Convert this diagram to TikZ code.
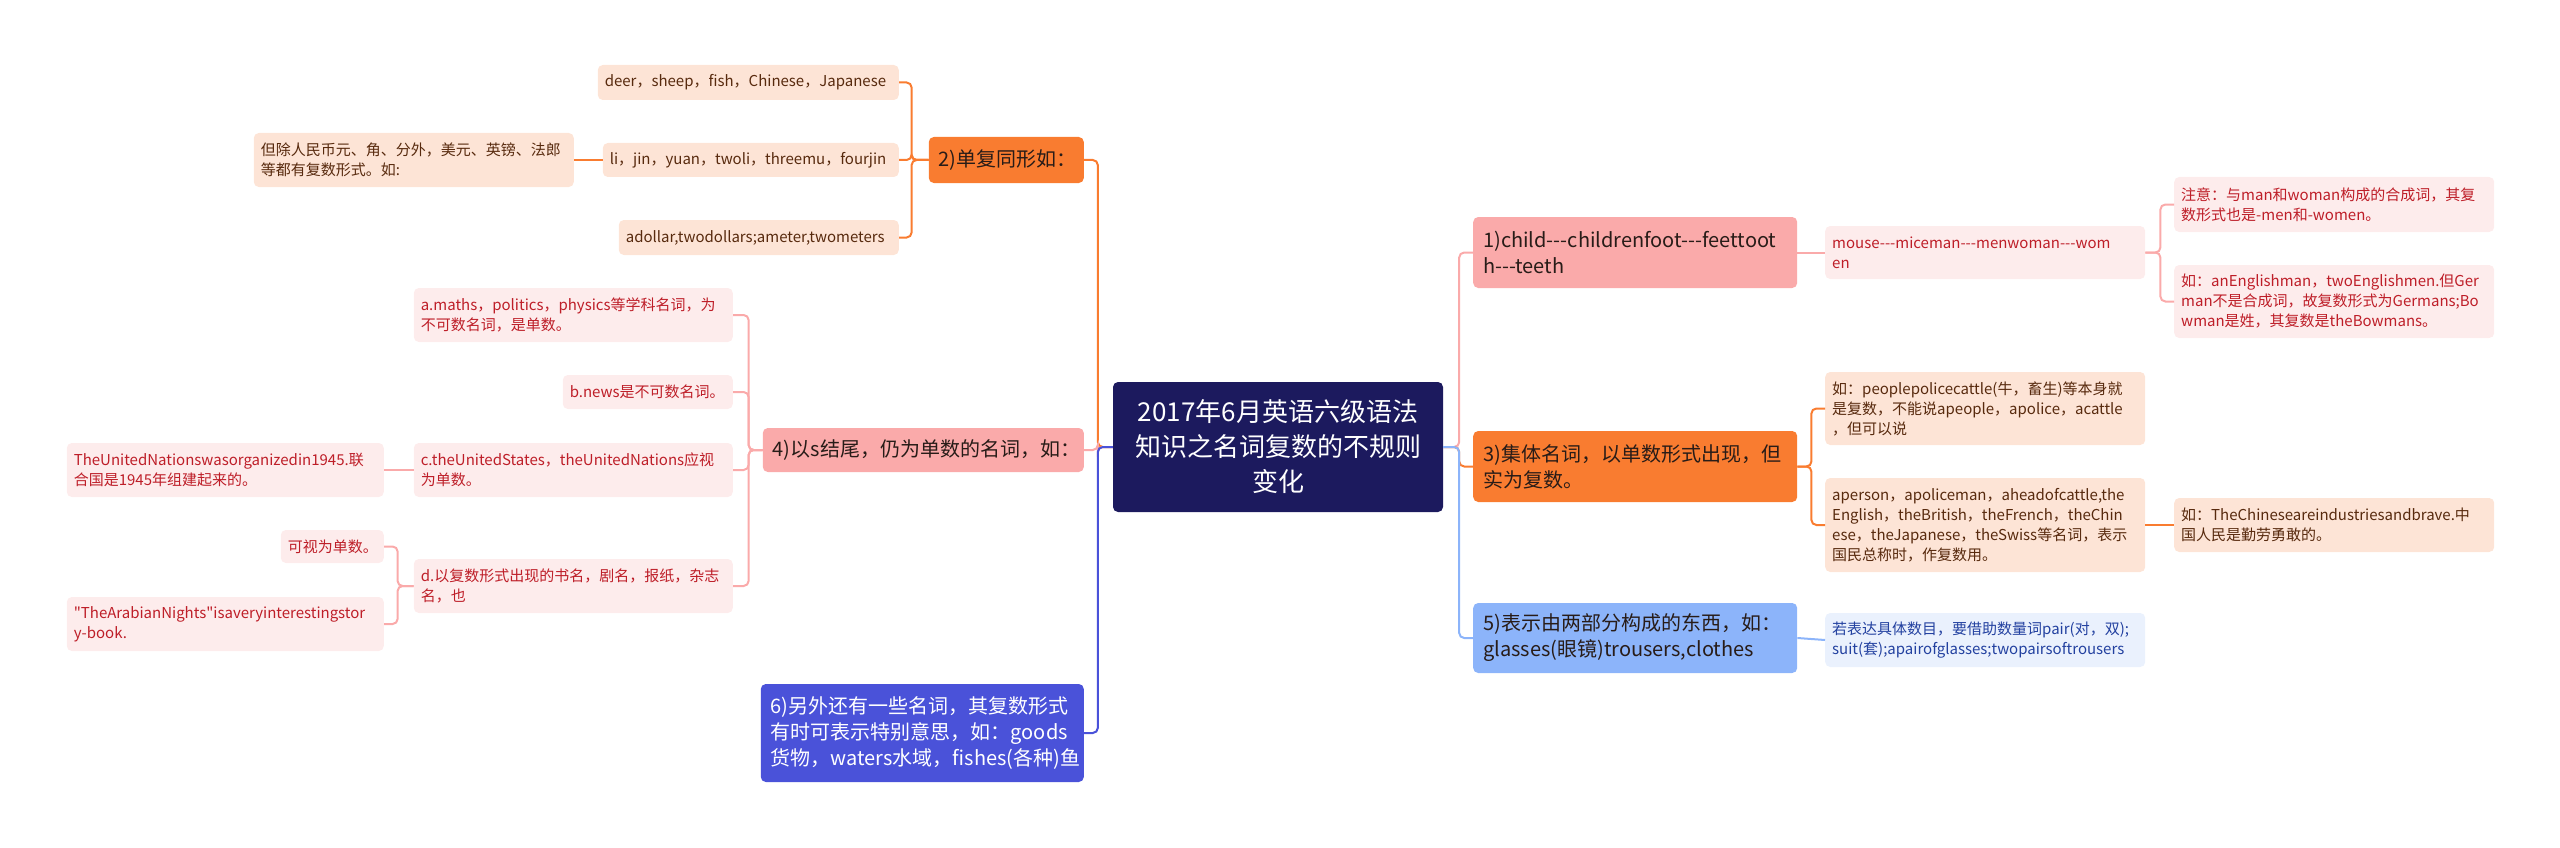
\documentclass[tikz,border=0pt]{standalone}
\usepackage{fontspec}
\newfontfamily\cnfont{Noto Sans CJK SC}
\definecolor{rootbg}{RGB}{28,26,94}
\definecolor{orangeA}{RGB}{249,124,48}
\definecolor{orangeL}{RGB}{253,228,214}
\definecolor{pinkA}{RGB}{250,170,170}
\definecolor{pinkL}{RGB}{253,236,236}
\definecolor{blueA}{RGB}{74,82,217}
\definecolor{skyA}{RGB}{140,180,250}
\definecolor{skyL}{RGB}{234,241,253}
\definecolor{brownT}{RGB}{88,42,14}
\definecolor{redT}{RGB}{190,30,40}
\definecolor{navyT}{RGB}{35,65,160}
\definecolor{darkT}{RGB}{40,28,24}

\begin{document}
\begin{tikzpicture}[x=1pt,y=-1pt,
  every node/.style={rounded corners=5pt,align=left,inner xsep=7pt,inner ysep=3pt},
  rootbox/.style={fill=rootbg,text=white,align=center,font=\cnfont\fontsize{26}{35}\selectfont,minimum width=330pt,minimum height=130pt},
  topbox/.style={font=\cnfont\fontsize{20}{26}\selectfont,inner xsep=10pt,text width=304pt,minimum height=71pt},
  orangetop/.style={topbox,fill=orangeA,text=darkT},
  pinktop/.style={topbox,fill=pinkA,text=darkT},
  bluetop/.style={topbox,fill=blueA,text=white},
  skytop/.style={topbox,fill=skyA,text=darkT},
  leaf/.style={font=\cnfont\fontsize{15}{20}\selectfont,text width=306pt,minimum height=54pt},
  orangeleaf/.style={leaf,fill=orangeL,text=brownT},
  pinkleaf/.style={leaf,fill=pinkL,text=redT},
  skyleaf/.style={leaf,fill=skyL,text=navyT},
  link/.style={line width=2pt,rounded corners=5pt},
  orangelink/.style={link,draw=orangeA},
  pinklink/.style={link,draw=pinkA},
  bluelink/.style={link,draw=blueA},
  skylink/.style={link,draw=skyA}]
\useasboundingbox (0,0) rectangle (2560,848);

\node[rootbox] (root) at (1278,447) {2017年6月英语六级语法\\知识之名词复数的不规则\\变化};

\node[orangetop,anchor=east,text width=135pt,minimum height=46pt] (c2) at (1084,160) {2)单复同形如：};
\node[pinktop,anchor=east,text width=301pt,minimum height=44pt] (c4) at (1084,450) {4)以s结尾，仍为单数的名词，如：};
\node[bluetop,anchor=east,text width=303pt,minimum height=98pt] (c6) at (1084,733) {6)另外还有一些名词，其复数形式\\有时可表示特别意思，如：goods\\货物，waters水域，fishes(各种)鱼};
\node[pinktop,anchor=west] (c1) at (1473,252.5) {1)child-{}-{}-childrenfoot-{}-{}-feettoot\\h-{}-{}-teeth};
\node[orangetop,anchor=west] (c3) at (1473,466.5) {3)集体名词，以单数形式出现，但\\实为复数。};
\node[skytop,anchor=west,minimum height=70pt] (c5) at (1473,638) {5)表示由两部分构成的东西，如：\\glasses(眼镜)trousers,clothes};

\node[orangeleaf,anchor=east,text width=287pt,minimum height=35pt] (deer) at (899,82.5) {deer，sheep，fish，Chinese，Japanese};
\node[orangeleaf,anchor=east,text width=282pt,minimum height=34pt] (li) at (899,160) {li，jin，yuan，twoli，threemu，fourjin};
\node[orangeleaf,anchor=east,text width=266pt,minimum height=35pt] (dollar) at (899,237.5) {adollar,twodollars;ameter,twometers};
\node[orangeleaf,anchor=east] (money) at (574,160) {但除人民币元、角、分外，美元、英镑、法郎\\等都有复数形式。如:};

\node[pinkleaf,anchor=east,text width=305pt] (maths) at (733,315) {a.maths，politics，physics等学科名词，为\\不可数名词，是单数。};
\node[pinkleaf,anchor=east,text width=156pt,minimum height=34pt] (news) at (733,392) {b.news是不可数名词。};
\node[pinkleaf,anchor=east,text width=305pt] (states) at (733,470) {c.theUnitedStates，theUnitedNations应视\\为单数。};
\node[pinkleaf,anchor=east,text width=303pt] (un) at (384,470) {TheUnitedNationswasorganizedin1945.联\\合国是1945年组建起来的。};
\node[pinkleaf,anchor=east,text width=305pt] (books) at (733,586) {d.以复数形式出现的书名，剧名，报纸，杂志\\名，也};
\node[pinkleaf,anchor=east,text width=89pt,minimum height=33pt] (single) at (384,546.5) {可视为单数。};
\node[pinkleaf,anchor=east,text width=303pt] (nights) at (384,624) {"TheArabianNights"isaveryinterestingstor\\y-book.};

\node[pinkleaf,anchor=west,minimum height=53pt] (mouse) at (1825,252.5) {mouse-{}-{}-miceman-{}-{}-menwoman-{}-{}-wom\\en};
\node[pinkleaf,anchor=west,minimum height=55pt] (notice) at (2174,204.5) {注意：与man和woman构成的合成词，其复\\数形式也是-men和-women。};
\node[pinkleaf,anchor=west,minimum height=73pt] (english) at (2174,301.5) {如：anEnglishman，twoEnglishmen.但Ger\\man不是合成词，故复数形式为Germans;Bo\\wman是姓，其复数是theBowmans。};
\node[orangeleaf,anchor=west,minimum height=73pt] (people) at (1825,408.5) {如：peoplepolicecattle(牛，畜生)等本身就\\是复数，不能说apeople，apolice，acattle\\，但可以说};
\node[orangeleaf,anchor=west,minimum height=94pt] (person) at (1825,525) {aperson，apoliceman，aheadofcattle,the\\English，theBritish，theFrench，theChin\\ese，theJapanese，theSwiss等名词，表示\\国民总称时，作复数用。};
\node[orangeleaf,anchor=west] (chinese) at (2174,525) {如：TheChineseareindustriesandbrave.中\\国人民是勤劳勇敢的。};
\node[skyleaf,anchor=west] (pair) at (1825,640) {若表达具体数目，要借助数量词pair(对，双);\\suit(套);apairofglasses;twopairsoftrousers};

\draw[orangelink] (root.west) -- ++(-15,0) |- (c2.east);
\draw[pinklink] (root.west) -- ++(-15,0) |- (c4.east);
\draw[bluelink] (root.west) -- ++(-15,0) |- (c6.east);
\draw[pinklink] (root.east) -- ++(16,0) |- (c1.west);
\draw[orangelink] (root.east) -- ++(16,0) |- (c3.west);
\draw[skylink] (root.east) -- ++(16,0) |- (c5.west);

\draw[orangelink] (c2.west) -- ++(-17,0) |- (deer.east);
\draw[orangelink] (c2.west) -- ++(-17,0) |- (li.east);
\draw[orangelink] (c2.west) -- ++(-17,0) |- (dollar.east);
\draw[orangelink] (li.west) -- (money.east);

\draw[pinklink] (c4.west) -- ++(-14,0) |- (maths.east);
\draw[pinklink] (c4.west) -- ++(-14,0) |- (news.east);
\draw[pinklink] (c4.west) -- ++(-14,0) |- (states.east);
\draw[pinklink] (c4.west) -- ++(-14,0) |- (books.east);
\draw[pinklink] (states.west) -- (un.east);
\draw[pinklink] (books.west) -- ++(-16,0) |- (single.east);
\draw[pinklink] (books.west) -- ++(-16,0) |- (nights.east);

\draw[pinklink] (c1.east) -- (mouse.west);
\draw[pinklink] (mouse.east) -- ++(15,0) |- (notice.west);
\draw[pinklink] (mouse.east) -- ++(15,0) |- (english.west);
\draw[orangelink] (c3.east) -- ++(14,0) |- (people.west);
\draw[orangelink] (c3.east) -- ++(14,0) |- (person.west);
\draw[orangelink] (person.east) -- (chinese.west);
\draw[skylink] (c5.east) -- (pair.west);
\end{tikzpicture}
\end{document}
